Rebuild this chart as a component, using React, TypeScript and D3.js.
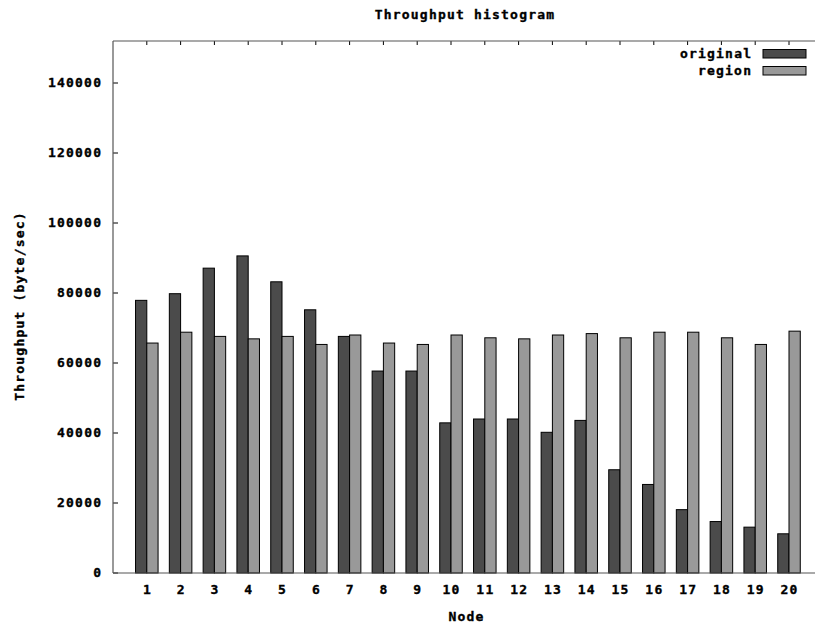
import React from "react";
import * as d3 from "d3";

const nodes = ["1","2","3","4","5","6","7","8","9","10","11","12","13","14","15","16","17","18","19","20"];
const original = [77900, 79800, 87100, 90600, 83200, 75200, 67600, 57700, 57700, 42900, 44000, 44000, 40200, 43600, 29500, 25300, 18100, 14700, 13100, 11200];
const region = [65700, 68800, 67600, 66900, 67600, 65300, 68000, 65700, 65300, 68000, 67200, 66900, 68000, 68400, 67200, 68800, 68800, 67200, 65300, 69100];
const yTicks = [0, 20000, 40000, 60000, 80000, 100000, 120000, 140000];
const seriesNames = ["original", "region"];
const seriesColors = ["#4b4b4b", "#999999"];

const W = 815, H = 626;
const left = 113, top = 41, bottom = 573;
const FONT = "'DejaVu Sans Mono', monospace";
const LS = 1.2;
const AXIS = "#555555";

export default function App() {
  const x = d3.scaleLinear().domain([0, 21]).range([left, left + 33.8 * 21]);
  const y = d3.scaleLinear().domain([0, 152000]).range([bottom, top]);
  const bw = x(1 / 3) - x(0);
  const txt = { fontFamily: FONT, fontWeight: "bold" as const, fontSize: 13, letterSpacing: LS, fill: "#000", stroke: "#000", strokeWidth: 0.35 };
  const series = [original, region];
  return (
    <svg width={W} height={H} style={{ position: "absolute", left: 0, top: 0, background: "#fff" }}>
      <text x={465} y={15} dominantBaseline="middle" textAnchor="middle" {...txt}>Throughput histogram</text>
      {/* y ticks */}
      {yTicks.map((t) => (
        <g key={t}>
          <line x1={left} x2={left + 5} y1={y(t)} y2={y(t)} stroke="#000" strokeWidth={1} />
          <text x={101 + LS} y={y(t)} dominantBaseline="middle" textAnchor="end" {...txt}>{t}</text>
        </g>
      ))}
      {/* x ticks */}
      {nodes.map((n, i) => (
        <g key={n}>
          <line x1={x(i + 1)} x2={x(i + 1)} y1={top} y2={top + 4} stroke="#000" strokeWidth={1} />
          <line x1={x(i + 1)} x2={x(i + 1)} y1={bottom} y2={bottom - 4} stroke="#000" strokeWidth={1} />
          <text x={x(i + 1) + LS / 2} y={590} dominantBaseline="middle" textAnchor="middle" {...txt}>{n}</text>
        </g>
      ))}
      {/* bars */}
      {series.map((vals, s) =>
        vals.map((v, i) => (
          <rect
            key={s + "-" + i}
            x={x(i + 1) - bw + s * bw}
            y={y(v)}
            width={bw}
            height={y(0) - y(v)}
            fill={seriesColors[s]}
            stroke="#000"
            strokeWidth={1}
          />
        ))
      )}
      {/* border */}
      <line x1={left} x2={W} y1={top} y2={top} stroke={AXIS} strokeWidth={1.2} />
      <line x1={left} x2={W} y1={bottom} y2={bottom} stroke={AXIS} strokeWidth={1.2} />
      <line x1={left} x2={left} y1={top} y2={bottom} stroke={AXIS} strokeWidth={1.2} />
      {/* legend */}
      {seriesNames.map((nm, s) => (
        <g key={nm}>
          <text x={751 + LS} y={54 + s * 17} dominantBaseline="middle" textAnchor="end" {...txt}>{nm}</text>
          <rect x={763} y={49.5 + s * 17} width={43} height={8.5} fill={seriesColors[s]} stroke="#000" strokeWidth={1} />
        </g>
      ))}
      <text x={466 + LS / 2} y={617} dominantBaseline="middle" textAnchor="middle" {...txt}>Node</text>
      <text transform={`translate(20,306) rotate(-90)`} dominantBaseline="middle" textAnchor="middle" {...txt}>Throughput (byte/sec)</text>
    </svg>
  );
}
